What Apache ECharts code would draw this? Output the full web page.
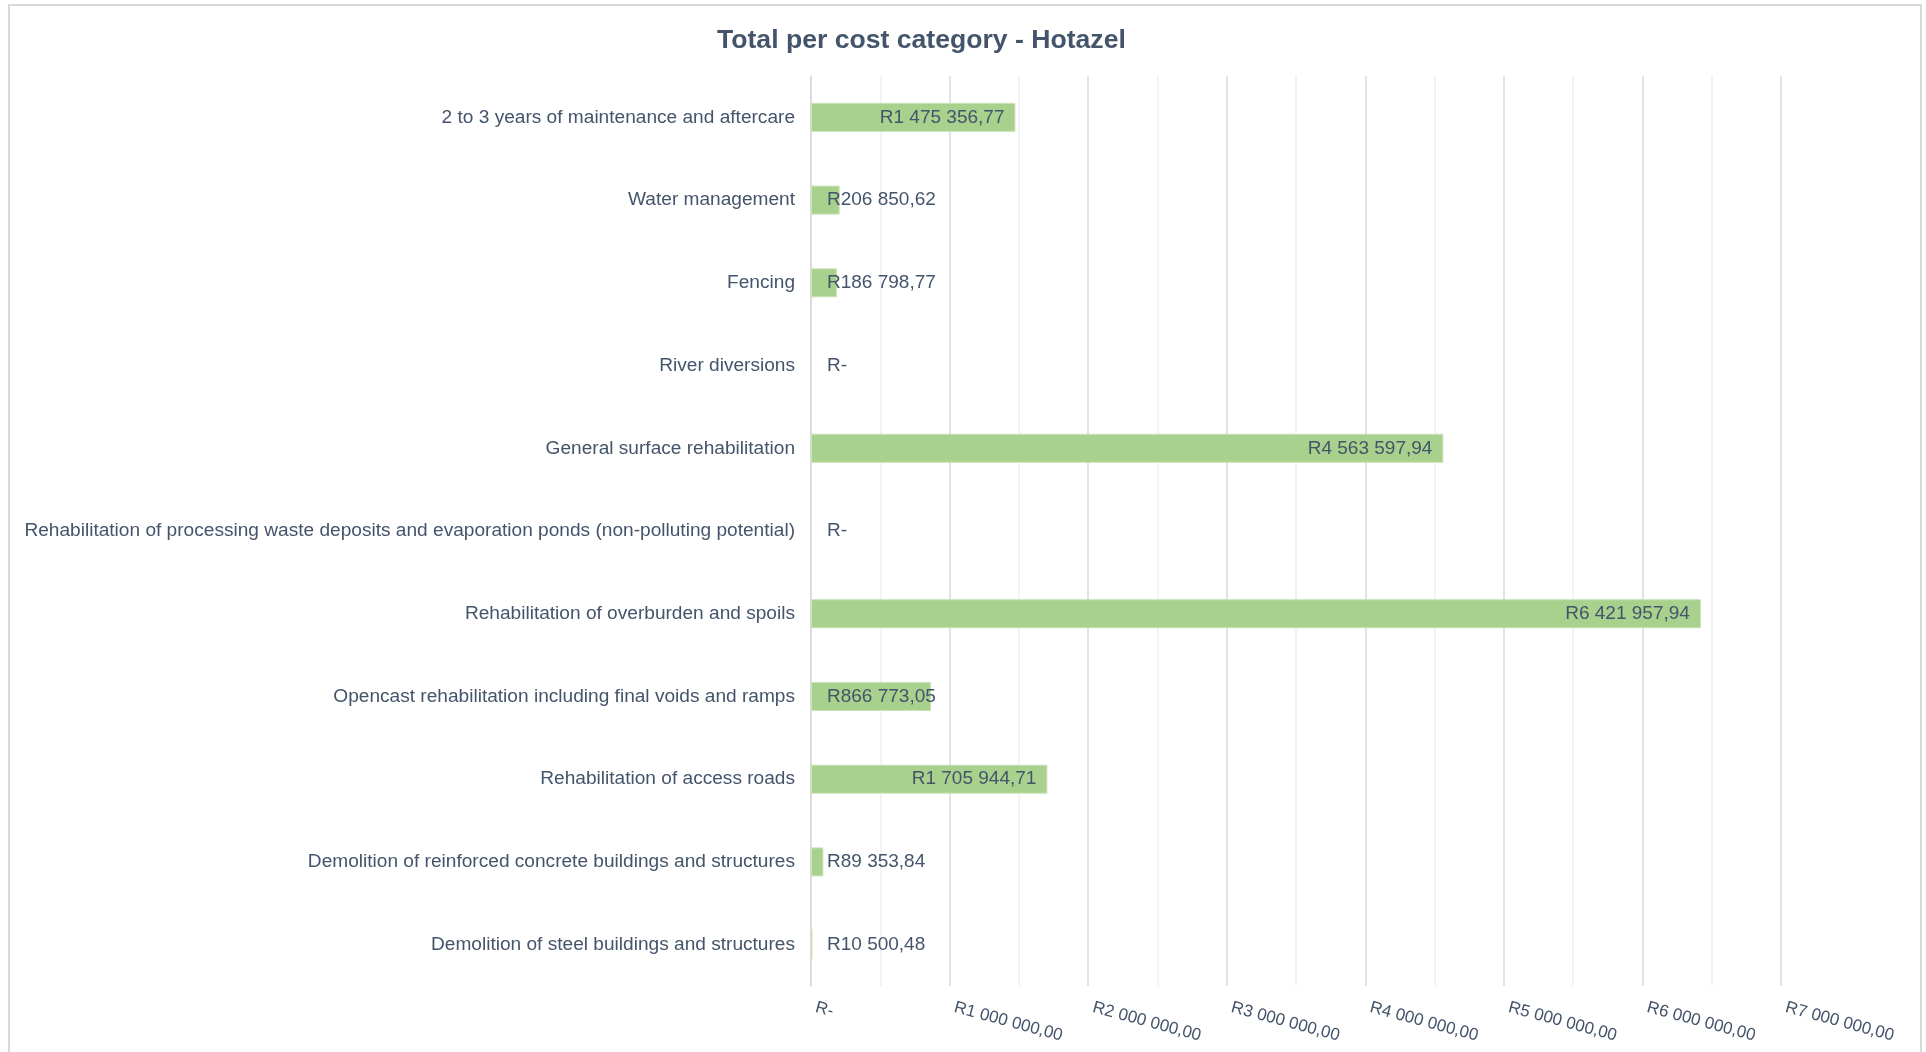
<!DOCTYPE html>
<html>
<head>
<meta charset="utf-8">
<script src="https://cdn.jsdelivr.net/npm/echarts@6/dist/echarts.min.js"></script>
<style>
html,body{margin:0;padding:0;background:#fff;}
#chart{width:1926px;height:1052px;}
</style>
</head>
<body>
<div id="chart"></div>
<script>
const titleText = "Total per cost category - Hotazel";
const categories = [
  "2 to 3 years of maintenance and aftercare",
  "Water management",
  "Fencing",
  "River diversions",
  "General surface rehabilitation",
  "Rehabilitation of processing waste deposits and evaporation ponds (non-polluting potential)",
  "Rehabilitation of overburden and spoils",
  "Opencast rehabilitation including final voids and ramps",
  "Rehabilitation of access roads",
  "Demolition of reinforced concrete buildings and structures",
  "Demolition of steel buildings and structures"
];
const values = [1475356.77, 206850.62, 186798.77, 0, 4563597.94, 0, 6421957.94, 866773.05, 1705944.71, 89353.84, 10500.48];
const axisMin = 0;
const axisMax = 7000000;
const axisInterval = 1000000;
const insideEndThreshold = 1000000;

const TEXT = "#44546a";
const FONT = "'Liberation Sans', Arial, sans-serif";

function fmtRand(v) {
  if (!v) return "R-";
  const fixed = v.toFixed(2);
  let [ip, dp] = fixed.split(".");
  ip = ip.replace(/\B(?=(\d{3})+(?!\d))/g, " ");
  return "R" + ip + "," + dp;
}

const chart = echarts.init(document.getElementById('chart'), null, {renderer: 'canvas'});
const seriesData = values.map(v => ({
  value: v,
  itemStyle: v === 0 ? {borderWidth: 0} : {},
  label: v >= insideEndThreshold
    ? {position: 'insideRight', distance: 11}
    : {position: 'insideLeft', distance: 16}
}));

chart.setOption({
  backgroundColor: '#ffffff',
  animation: false,
  title: {
    text: titleText,
    left: 712,
    top: 22,
    textStyle: {color: TEXT, fontFamily: FONT, fontSize: 26.6, fontWeight: 'bold'}
  },
  graphic: [{
    type: 'rect',
    shape: {x: 9, y: 5, width: 1912, height: 1100},
    style: {fill: null, stroke: '#d9d9d9', lineWidth: 2},
    silent: true,
    z: -1
  }],
  grid: {left: 811, right: 145, top: 76, bottom: 66, containLabel: false},
  xAxis: {
    type: 'value',
    min: axisMin,
    max: axisMax,
    interval: axisInterval,
    axisLine: {show: false},
    axisTick: {show: false},
    splitLine: {show: true, lineStyle: {color: '#d9d9d9', width: 1.5}},
    minorTick: {show: false, splitNumber: 2},
    minorSplitLine: {show: true, lineStyle: {color: '#f0f0f0', width: 1.5}},
    axisLabel: {
      rotate: -15,
      margin: 20,
      padding: [0, 0, 0, 5],
      color: TEXT,
      fontFamily: FONT,
      fontSize: 17,
      formatter: v => fmtRand(v)
    }
  },
  yAxis: {
    type: 'category',
    data: categories,
    inverse: true,
    axisLine: {show: true, lineStyle: {color: '#d9d9d9', width: 1.5}},
    axisTick: {show: false},
    axisLabel: {color: TEXT, fontFamily: FONT, fontSize: 19.1, margin: 16}
  },
  series: [{
    type: 'bar',
    data: seriesData,
    barWidth: 29,
    itemStyle: {color: '#a9d18e', borderColor: '#c9e2b6', borderWidth: 1},
    label: {
      show: true,
      color: TEXT,
      fontFamily: FONT,
      fontSize: 19,
      formatter: p => fmtRand(p.value)
    }
  }]
});
</script>
</body>
</html>
